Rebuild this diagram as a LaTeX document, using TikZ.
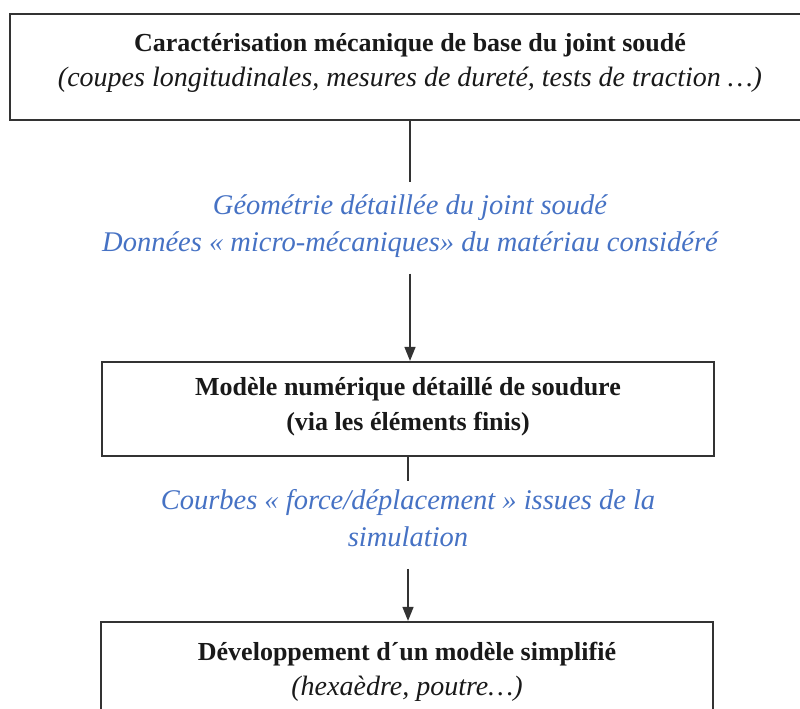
\documentclass[tikz,border=0pt]{standalone}
\usepackage{fontspec}
\setmainfont{Liberation Serif}
\usetikzlibrary{arrows.meta,positioning}
\definecolor{bleutexte}{RGB}{70,114,196}
\newcommand{\grasligne}[1]{{\fontsize{26}{35}\selectfont\bfseries #1}}
\newcommand{\itligne}[1]{{\fontsize{28}{35}\selectfont\itshape #1}}
\tikzset{
  boite/.style={draw=black!80, line width=2.2pt, inner sep=0pt},
  texte/.style={align=center, inner sep=0pt, text=black!90, font=\fontsize{26}{35}\selectfont},
  bleu/.style={align=center, inner sep=0pt, text=bleutexte, font=\fontsize{28.5}{37}\selectfont\itshape},
  trait/.style={draw=black!80, line width=1.4pt},
  fleche/.style={trait, -{Triangle[width=11pt,length=14pt]}},
}

\begin{document}
\begin{tikzpicture}[x=1pt,y=-1pt]
                \useasboundingbox (0,0) rectangle (800,709);
                \clip (0,0) rectangle (800,709);
                % boites
                \node[boite, minimum width=800pt, minimum height=106pt] (carac) at (410,67) {};
                \node[boite, minimum width=612pt, minimum height=94pt] (modele) at (408,409) {};
                \node[boite, minimum width=612pt, minimum height=120pt] (simpl) at (407,682) {};

                % textes
                \node[texte] (caractxt) at (410,63) {\grasligne{Caractérisation mécanique de base du joint soudé}\\\itligne{(coupes longitudinales, mesures de dureté, tests de traction \dots)}};
                \node[texte] (modeletxt) at (408,407) {\grasligne{Modèle numérique détaillé de soudure}\\\grasligne{(via les éléments finis)}};
                \node[texte] (simpltxt) at (407,672) {\grasligne{Développement d´un modèle simplifié}\\\itligne{(hexaèdre, poutre\dots)}};

                \node[bleu] (geom) at (410,226) {Géométrie détaillée du joint soudé\\Données « micro-mécaniques» du matériau considéré};
                \node[bleu] (courbes) at (408,518) {Courbes « force/déplacement » issues de la\\simulation};

                % liaisons
                \draw[trait, shorten >=12pt] (carac.south -| geom.north) -- (geom.north);
                \draw[fleche, shorten <=16pt] (geom.south) -- (geom.south |- modele.north);
                \draw[trait, shorten >=8pt] (modele.south -| courbes.north) -- (courbes.north);
                \draw[fleche, shorten <=22pt] (courbes.south) -- (courbes.south |- simpl.north);
\end{tikzpicture}
\end{document}
